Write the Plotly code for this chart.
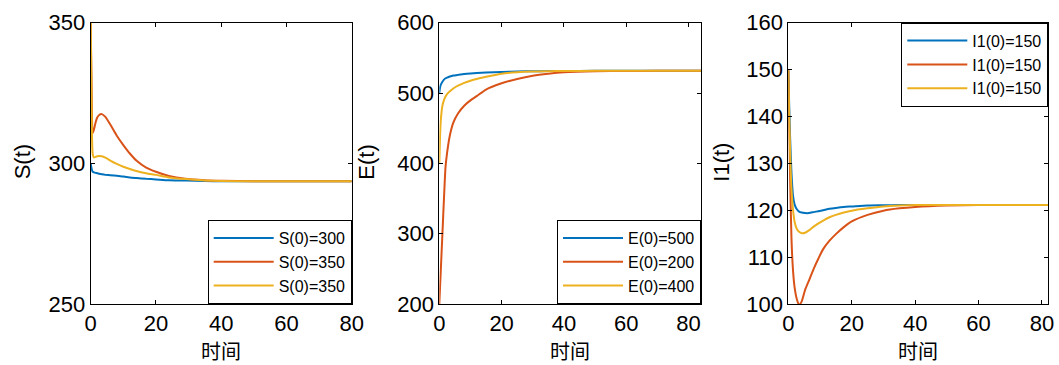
import plotly.graph_objects as go

# ---------------- data ----------------
t_S = [0, 0.3, 0.6, 1, 1.5, 2, 2.6, 3.4, 4.5, 6, 8, 10, 12, 14, 17, 20, 24, 29, 35, 40, 50, 60, 70, 80]
S_blue = [300, 298, 297, 296.8, 296.6, 296.5, 296.3, 296.1, 295.9, 295.8, 295.6, 295.3, 295.0, 294.8, 294.5, 294.3, 294.0, 293.9, 293.7, 293.6, 293.6, 293.6, 293.6, 293.6]
S_red = [350, 325, 310.7, 312, 314.5, 316.3, 317.2, 317.5, 316.5, 313.8, 309.8, 306.5, 303.5, 301, 298.5, 297, 295.5, 294.5, 294, 293.8, 293.6, 293.6, 293.6, 293.6]
S_yel = [350, 318, 303.5, 302.1, 302.3, 302.5, 302.6, 302.5, 302, 301, 299.8, 298.8, 298, 297.3, 296.5, 295.9, 295, 294.4, 293.9, 293.7, 293.6, 293.6, 293.6, 293.6]

t_E = [0, 0.25, 0.5, 1, 1.5, 2, 2.5, 3.4, 4.5, 6, 8, 10, 12, 15, 20, 25, 30, 35, 40, 50, 60, 70, 84]
E_blue = [500, 508, 512, 516, 519, 521, 522, 523.5, 524.8, 525.8, 527, 527.8, 528.4, 529.2, 530, 530.6, 531, 531.2, 531.4, 531.5, 531.5, 531.5, 531.5]
E_red = [200, 225, 250, 300, 350, 395, 415, 440, 458, 471, 482, 489.5, 495.5, 505, 513.8, 520, 524.6, 527.5, 529.5, 531, 531.4, 531.5, 531.5]
E_yel = [400, 440, 462, 482, 490, 495, 498.5, 502.5, 506.5, 510.5, 514.5, 517.5, 520, 523, 527.5, 529.5, 530.6, 531, 531.3, 531.5, 531.5, 531.5, 531.5]

t_I = [0, 0.3, 0.6, 1, 1.5, 2, 2.7, 3.4, 4.2, 5.3, 6.5, 8, 9.5, 11, 13, 15, 17.5, 20, 25, 30, 35, 40, 50, 60, 82]
I_blue = [150, 142, 135, 128, 123, 121.2, 120.2, 119.7, 119.5, 119.4, 119.4, 119.6, 119.8, 120, 120.3, 120.5, 120.7, 120.8, 121, 121.05, 121.1, 121.1, 121.1, 121.1, 121.1]
I_red = [150, 137, 126, 114, 107, 103.5, 101, 99.8, 100.5, 103, 105, 107.5, 109.7, 111.7, 113.5, 114.9, 116.4, 117.6, 119, 119.9, 120.4, 120.7, 121, 121.1, 121.1]
I_yel = [150, 140, 132, 124.5, 120, 117.5, 116, 115.4, 115.1, 115.2, 115.7, 116.5, 117.2, 117.8, 118.5, 119, 119.5, 119.9, 120.4, 120.8, 121, 121.1, 121.1, 121.1, 121.1]

S_names = ["S(0)=300", "S(0)=350", "S(0)=350"]
E_names = ["E(0)=500", "E(0)=200", "E(0)=400"]
I_names = ["I1(0)=150", "I1(0)=150", "I1(0)=150"]
y_titles = ["S(t)", "E(t)", "I1(t)"]
x_title = "时间"

colors = ["#0072BD", "#D95319", "#EDB120"]

W, H = 1059, 365
FONT = "Liberation Sans, Arial, Noto Sans CJK SC, sans-serif"

def fx(px):
    return px / W

def fy(py):
    return 1 - py / H

top, bottom = 22.7, 304
panels = [
    dict(x0=90.7, x1=351.7, xr=[0, 80], yr=[250, 350], dy=50),
    dict(x0=439.3, x1=701.0, xr=[0, 84], yr=[200, 600], dy=100),
    dict(x0=788.3, x1=1048.3, xr=[0, 82], yr=[100, 160], dy=10),
]

fig = go.Figure()

series = [
    (t_S, [S_blue, S_red, S_yel], S_names),
    (t_E, [E_blue, E_red, E_yel], E_names),
    (t_I, [I_blue, I_red, I_yel], I_names),
]
legend_ids = ["legend", "legend2", "legend3"]

for i, (t, ys, names) in enumerate(series):
    ax = "" if i == 0 else str(i + 1)
    for y, n, c in zip(ys, names, colors):
        fig.add_trace(go.Scatter(
            x=t, y=y, mode="lines", name=n,
            line=dict(color=c, width=2, shape="spline", smoothing=0.6),
            xaxis="x" + ax, yaxis="y" + ax, legend=legend_ids[i],
        ))

axis_common = dict(
    showline=True, linecolor="black", linewidth=1, mirror="ticks",
    ticks="inside", ticklen=4, tickcolor="black", showgrid=False, zeroline=False,
    tickfont=dict(family=FONT, size=22, color="black"), automargin=False,
)

layout = dict(
    width=W, height=H, margin=dict(l=0, r=0, t=0, b=0),
    paper_bgcolor="white", plot_bgcolor="white",
    font=dict(family=FONT, color="black"),
)

for i, p in enumerate(panels):
    ax = "" if i == 0 else str(i + 1)
    layout["xaxis" + ax] = dict(axis_common, domain=[fx(p["x0"]), fx(p["x1"])],
                                range=p["xr"], dtick=20, tick0=0,
                                anchor="y" + ax)
    layout["yaxis" + ax] = dict(axis_common, domain=[fy(bottom), fy(top)],
                                range=p["yr"], dtick=p["dy"], tick0=0,
                                anchor="x" + ax)

leg_common = dict(bgcolor="white", bordercolor="black", borderwidth=1,
                  font=dict(family=FONT, size=16, color="black"),
                  itemwidth=60, tracegroupgap=0)
layout["legend"] = dict(leg_common, x=fx(351.7), y=fy(bottom), xanchor="right", yanchor="bottom")
layout["legend2"] = dict(leg_common, x=fx(701.0), y=fy(bottom), xanchor="right", yanchor="bottom")
layout["legend3"] = dict(leg_common, x=fx(1048.3), y=fy(top), xanchor="right", yanchor="top")

fig.update_layout(**layout)

ytitle_x = [23.3, 366.7, 721.7]
for i, p in enumerate(panels):
    fig.add_annotation(text=y_titles[i], xref="paper", yref="paper",
                       x=fx(ytitle_x[i]), y=fy(162), textangle=-90,
                       showarrow=False, xanchor="center", yanchor="middle",
                       font=dict(family=FONT, size=22, color="black"))
    fig.add_annotation(text=x_title, xref="paper", yref="paper",
                       x=fx((p["x0"] + p["x1"]) / 2), y=fy(350),
                       showarrow=False, xanchor="center", yanchor="middle",
                       font=dict(family="Noto Sans CJK SC, sans-serif", size=20, color="black"))

fig.write_html("out.html", config={"displayModeBar": False},
               post_script="document.body.style.margin='0';document.body.style.overflow='hidden';")
